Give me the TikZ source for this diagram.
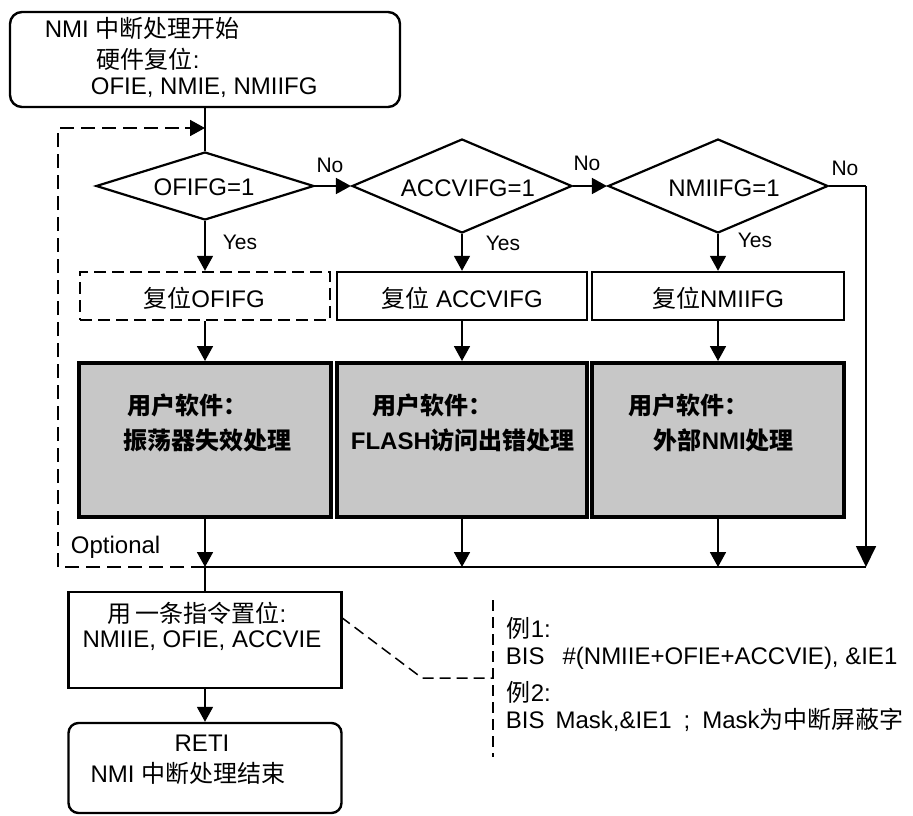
\documentclass[tikz,border=0pt]{standalone}
\usepackage{fontspec}
\setmainfont{Liberation Sans}
\newfontfamily\cjk{Noto Sans CJK SC}
\usetikzlibrary{arrows.meta,shapes.geometric,calc}
\begin{document}
\begin{tikzpicture}[x=1pt,y=-1pt,
  font=\fontsize{24}{28}\selectfont,
  line width=1.8pt,
  every node/.style={inner sep=0pt},
  boxs/.style={draw, rectangle, line width=2.4pt},
  rbox/.style={boxs, rounded corners=12pt},
  dia/.style={draw, diamond, line width=2.2pt},
  shd/.style={draw, rectangle, line width=4pt, fill=black!22},
  dsh/.style={dash pattern=on 14pt off 7pt},
  cdsh/.style={line width=1.5pt, dash pattern=on 11pt off 6pt},
  arr/.style={-{Triangle[width=16pt,length=15pt]}},
  bigarr/.style={-{Triangle[width=20pt,length=21pt]}},
  lbl/.style={font=\fontsize{21}{25}\selectfont},
  btxt/.style={font=\fontsize{24}{28}\selectfont\bfseries},
]
\useasboundingbox (0,0) rectangle (913,816);

% top box
\node[rbox, minimum width=390pt, minimum height=95pt] (top) at (205,59.5) {};
\node[anchor=west] (t1) at (44,28) {NMI {\cjk 中断处理开始}};
\node[anchor=west] (t2) at (96,59) {{\cjk 硬件复位}:};
\node[anchor=west] (t3) at (90,88) {OFIE, NMIE, NMIIFG};

% diamonds
\node[dia, minimum width=218pt, minimum height=68pt] (d1) at (205,186) {};
\node[dia, minimum width=220pt, minimum height=94pt] (d2) at (462,186) {};
\node[dia, minimum width=220pt, minimum height=94pt] (d3) at (718,186) {};
\node (d1t) at (204,187) {OFIFG=1};
\node (d2t) at (468,188) {ACCVIFG=1};
\node (d3t) at (724,188) {NMIIFG=1};

% labels
\node[lbl] (n1) at (330,165) {No};
\node[lbl] (n2) at (587,163) {No};
\node[lbl] (n3) at (845,168) {No};
\node[lbl] (y1) at (240,242) {Yes};
\node[lbl] (y2) at (503,243) {Yes};
\node[lbl] (y3) at (755,240) {Yes};

% reset boxes
\node[boxs, dash pattern=on 12pt off 6pt, minimum width=250pt, minimum height=48pt] (r1) at (205,296) {};
\node[boxs, minimum width=250pt, minimum height=48pt] (r2) at (462,296) {};
\node[boxs, minimum width=252pt, minimum height=48pt] (r3) at (718,296) {};
\node (r1t) at (204,298) {{\cjk 复位}OFIFG};
\node (r2t) at (462,298) {{\cjk 复位} ACCVIFG};
\node (r3t) at (718,298) {{\cjk 复位}NMIIFG};

% shaded boxes
\node[shd, minimum width=252pt, minimum height=154pt] (s1) at (205,440) {};
\node[shd, minimum width=250pt, minimum height=154pt] (s2) at (462,440) {};
\node[shd, minimum width=252pt, minimum height=154pt] (s3) at (718,440) {};
\node[btxt, anchor=west] (s1a) at (127,405) {\cjk 用户软件：};
\node[btxt, anchor=west] (s1b) at (123,440) {\cjk 振荡器失效处理};
\node[btxt, anchor=west] (s2a) at (372,405) {\cjk 用户软件：};
\node[btxt, anchor=west] (s2b) at (350,440) {FLASH{\cjk 访问出错处理}};
\node[btxt, anchor=west] (s3a) at (628,405) {\cjk 用户软件：};
\node[btxt, anchor=west] (s3b) at (653,440) {{\cjk 外部}NMI{\cjk 处理}};

% junction coordinates
\coordinate (j0) at (58,567);
\coordinate (j1) at (205,567);
\coordinate (j2) at (462,567);
\coordinate (j3) at (718,567);
\coordinate (j4) at (866,567);
\coordinate (rc) at (866,186);
\coordinate (lt) at (58,128);
\coordinate (jt) at (205,128);

\node[anchor=west] (opt) at (70,547) {Optional};

% bottom boxes
\node[boxs, minimum width=273pt, minimum height=96pt] (set) at (205,640) {};
\node (set1) at (197,613) {{\cjk 用\,一条指令置位}:};
\node (set2) at (202,641) {NMIIE, OFIE, ACCVIE};
\node[rbox, rounded corners=10pt, minimum width=273pt, minimum height=90pt] (reti) at (205,768) {};
\node (reti1) at (202,743) {RETI};
\node (reti2) at (188,773) {NMI {\cjk 中断处理结束}};

% connectors
\draw (top.south) -- (d1.north);
\draw[arr] (d1.east) -- (d2.west);
\draw[arr] (d2.east) -- (d3.west);
\draw (d3.east) -- (rc);
\draw[bigarr] (rc) -- (j4);
\draw[arr] (d1.south) -- (r1.north);
\draw[arr] (d2.south) -- (r2.north);
\draw[arr] (d3.south) -- (r3.north);
\draw[arr] (r1.south) -- (s1.north);
\draw[arr] (r2.south) -- (s2.north);
\draw[arr] (r3.south) -- (s3.north);
\draw[arr] (s1.south) -- (j1);
\draw[arr] (s2.south) -- (j2);
\draw[arr] (s3.south) -- (j3);
\draw (j1) -- (j4);
\draw[dsh] (j1) -- (j0) -- (lt) -- (jt);
\draw[arr] ($(jt)+(-20,0)$) -- (jt);
\draw (j1) -- (set.north);
\draw[arr] (set.south) -- (reti.north);

% callout
\coordinate (c0) at (341,617);
\coordinate (c1) at (422,678);
\coordinate (c2) at (493,678);
\coordinate (b1) at (493,600);
\coordinate (b2) at (493,757);
\draw[cdsh] (c0) -- (c1) -- (c2);
\draw[cdsh] (b1) -- (b2);
\node[anchor=west] (e1) at (506,628) {{\cjk 例}1:};
\node[anchor=west] (e1c) at (505,658) {BIS\hspace*{18pt}\#(NMIIE+OFIE+ACCVIE), \&IE1};
\node[anchor=west] (e2) at (506,692) {{\cjk 例}2:};
\node[anchor=west] (e2c) at (505,720) {BIS\hspace*{11pt}Mask,\&IE1\hspace*{12pt};\hspace*{12pt}Mask{\cjk 为中断屏蔽字}};
\end{tikzpicture}
\end{document}
